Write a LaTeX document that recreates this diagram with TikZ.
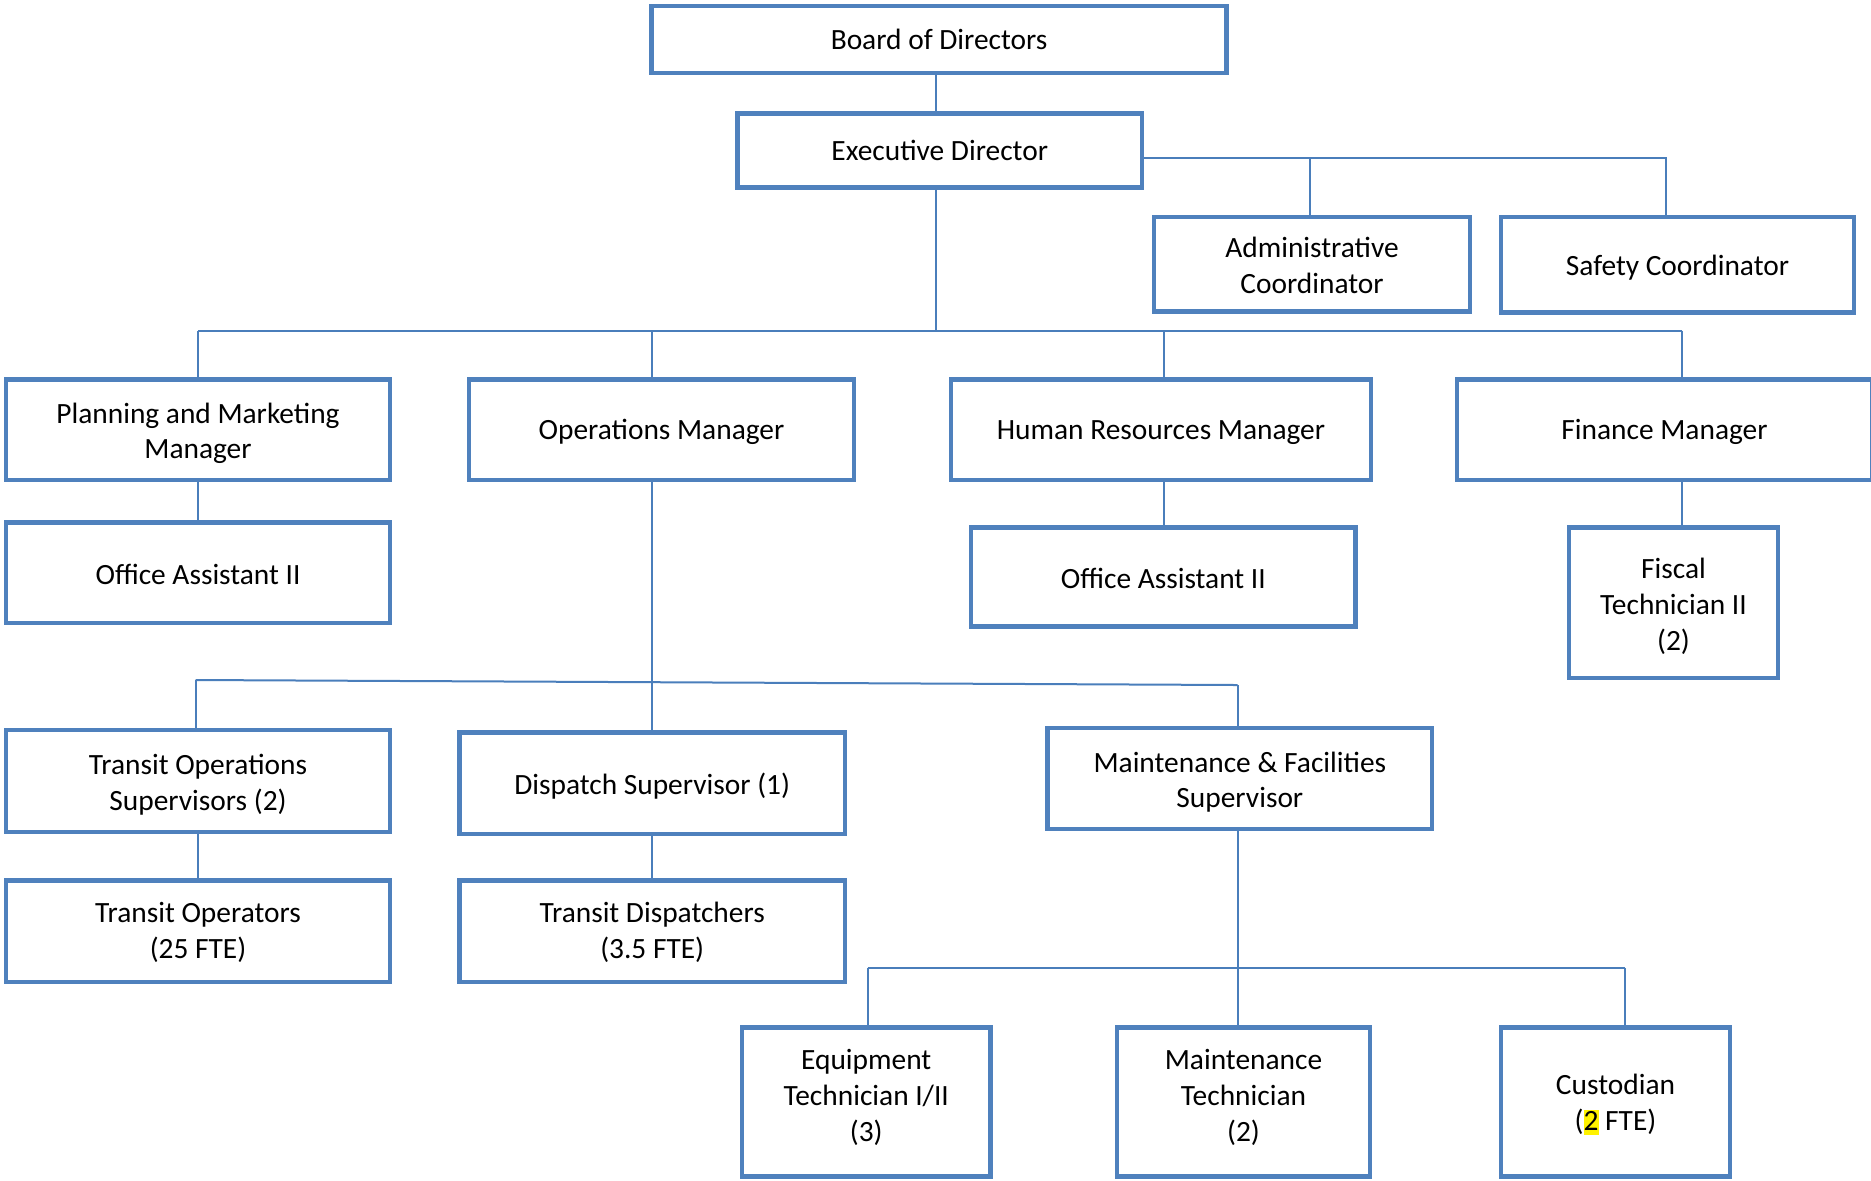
\documentclass[tikz,border=0pt]{standalone}
\usepackage{fontspec}
\setmainfont{Carlito}
\usepackage{xcolor}
\definecolor{boxblue}{HTML}{4F81BD}
\definecolor{lineblue}{HTML}{4A7EBB}
\tikzset{
  orgbox/.style={draw=boxblue, line width=2.3pt, fill=white, inner sep=0pt},
  orgtext/.style={inner sep=0pt, align=center,
    font=\fontsize{14.7pt}{17.9pt}\selectfont, text=black},
  link/.style={draw=lineblue, line width=1pt}
}
% \orgbox[text shift]{name}{left}{top}{right}{bottom}{text}
\newcommand{\orgbox}[7][-1.2pt]{%
  \pgfmathsetmacro\bw{(#5-#3)*0.5}%
  \pgfmathsetmacro\bh{(#6-#4)*0.5}%
  \node[orgbox, minimum width=\bw pt, minimum height=\bh pt] (#2) at ({(#3+#5)/2},{(#4+#6)/2}) {};
  \node[orgtext] (#2-t) at ([yshift=#1]#2.center) {#7};}
\newcommand{\hlnum}[1]{{\setlength{\fboxsep}{0pt}\colorbox{yellow}{\rule[-0.17em]{0pt}{0.86em}#1}}}
\begin{document}
\begin{tikzpicture}[x=0.5pt, y=-0.5pt]
\useasboundingbox (0,0) rectangle (1871,1180);
\coordinate (xBoard) at (935.5,0);
\coordinate (xAdmin) at (1310,0);
\coordinate (xSafe) at (1666,0);
\coordinate (xPM) at (198,0);
\coordinate (xOps) at (651.5,0);
\coordinate (xHR) at (1163.5,0);
\coordinate (xFin) at (1681.5,0);
\coordinate (xMF) at (1237.5,0);
\coordinate (xEq) at (867.5,0);
\coordinate (xCu) at (1625,0);
\coordinate (xTOS) at (195.7,0);
\coordinate (yExecR) at (0,157.5);
\coordinate (yMain) at (0,330.5);
\coordinate (yBot) at (0,967.8);

\orgbox[0pt]{board}{651.5}{6}{1226.7}{72.8}{Board of Directors}
\orgbox[0pt]{exec}{737.5}{113.4}{1142}{187.3}{Executive Director}
\orgbox[-0.6pt]{admin}{1154}{217}{1470}{311.5}{Administrative\\Coordinator}
\orgbox{safety}{1501}{217}{1854}{312.6}{Safety Coordinator}
\orgbox[-1.8pt]{pm}{6}{379.5}{390}{480}{Planning and Marketing\\Manager}
\orgbox{ops}{469}{379.5}{854}{480}{Operations Manager}
\orgbox{hr}{951}{379.5}{1371}{480}{Human Resources Manager}
\orgbox{fin}{1457}{379.5}{1872}{480}{Finance Manager}
\orgbox[-0.6pt]{oa1}{6}{522.7}{390}{623}{Office Assistant II}
\orgbox[-0.6pt]{oa2}{971}{527.4}{1355.6}{626.5}{Office Assistant II}
\orgbox[-1.8pt]{fiscal}{1569}{527.4}{1778}{678}{Fiscal\\Technician II\\(2)}
\orgbox[-1.8pt]{tos}{6}{730}{390}{832}{Transit Operations\\Supervisors (2)}
\orgbox{disp}{459.4}{732.7}{845}{834}{Dispatch Supervisor (1)}
\orgbox[-1.8pt]{mf}{1047.7}{728}{1432}{829}{Maintenance \& Facilities\\Supervisor}
\orgbox[-0.6pt]{to}{6}{880.6}{390}{982}{Transit Operators\\(25 FTE)}
\orgbox[-0.6pt]{td}{459.4}{880.6}{845}{982}{Transit Dispatchers\\(3.5 FTE)}
\orgbox[2.4pt]{equip}{742}{1027.4}{990.5}{1176.6}{Equipment\\Technician I/II\\(3)}
\orgbox[2.4pt]{mt}{1117}{1027.4}{1370}{1176.6}{Maintenance\\Technician\\(2)}
\orgbox{cust}{1501}{1027.4}{1730}{1176.6}{Custodian\\(\hlnum{2} FTE)}

% board - exec
\draw[link] (board.south -| xBoard) -- (exec.north -| xBoard);
% exec right branch
\draw[link] (exec.east |- yExecR) -- (xSafe |- yExecR) -- (safety.north -| xSafe);
\draw[link] (xAdmin |- yExecR) -- (admin.north -| xAdmin);
% exec down to main bus
\draw[link] (exec.south -| xBoard) -- (xBoard |- yMain);
\draw[link] (xPM |- yMain) -- (xFin |- yMain);
\draw[link] (xPM |- yMain) -- (pm.north -| xPM);
\draw[link] (xOps |- yMain) -- (ops.north -| xOps);
\draw[link] (xHR |- yMain) -- (hr.north -| xHR);
\draw[link] (xFin |- yMain) -- (fin.north -| xFin);
% managers to subordinates
\draw[link] (pm.south -| xPM) -- (oa1.north -| xPM);
\draw[link] (hr.south -| xHR) -- (oa2.north -| xHR);
\draw[link] (fin.south -| xFin) -- (fiscal.north -| xFin);
% operations
\coordinate (sl1) at (195.7,680);
\coordinate (sl2) at (1237.5,685);
\draw[link] (ops.south -| xOps) -- (disp.north -| xOps);
\draw[link] (sl1) -- (sl2);
\draw[link] (sl1) -- (tos.north -| xTOS);
\draw[link] (sl2) -- (mf.north -| xMF);
\draw[link] (tos.south -| xPM) -- (to.north -| xPM);
\draw[link] (disp.south -| xOps) -- (td.north -| xOps);
% maintenance
\draw[link] (mf.south -| xMF) -- (mt.north -| xMF);
\draw[link] (xEq |- yBot) -- (xCu |- yBot);
\draw[link] (xEq |- yBot) -- (equip.north -| xEq);
\draw[link] (xCu |- yBot) -- (cust.north -| xCu);
\end{tikzpicture}
\end{document}
